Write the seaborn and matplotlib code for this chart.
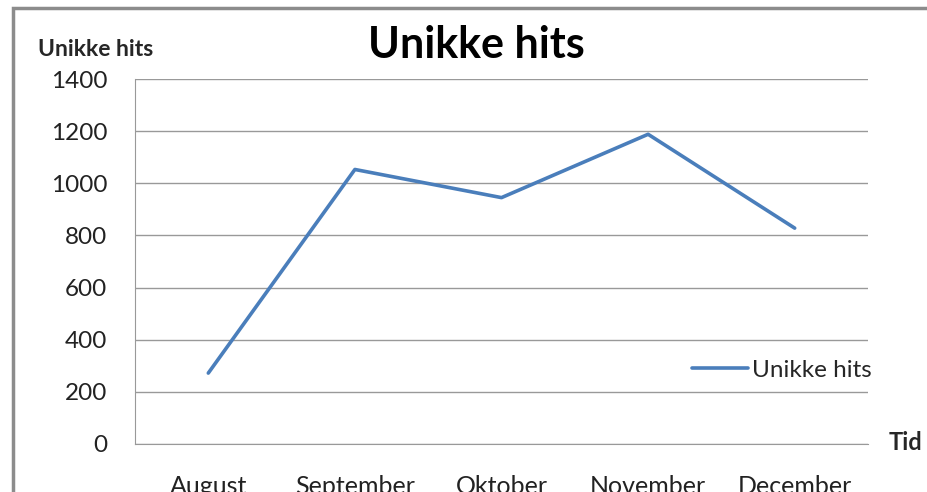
import matplotlib
matplotlib.use("Agg")
import matplotlib.pyplot as plt
import matplotlib.patches as patches
import seaborn as sns
import pandas as pd

months = ["August", "September", "Oktober", "November", "December"]
hits = [272, 1053, 945, 1188, 828]
yticks = [0, 200, 400, 600, 800, 1000, 1200, 1400]

df = pd.DataFrame({"Tid": months, "Unikke hits": hits})

sns.set_style("white")
plt.rcParams["font.family"] = ["Lato", "DejaVu Sans"]

W, H = 928, 492
fig = plt.figure(figsize=(9.28, 4.92), dpi=100)
ax = fig.add_axes([135 / W, 48 / H, 733 / W, 365 / H])

sns.lineplot(x=range(len(months)), y=df["Unikke hits"], ax=ax, color="#4A7EBB",
             linewidth=2.6, label="Unikke hits", sort=False)

ax.set_xlim(-0.5, len(months) - 0.5)
ax.set_ylim(0, 1400)
ax.set_yticks(yticks)
ax.set_yticklabels([str(v) for v in yticks], fontsize=17.5, color="#222222")
ax.set_xticks(range(len(months)))
ax.set_xticklabels(months, fontsize=18, color="#222222")
ax.set_xticks([i - 0.5 for i in range(len(months) + 1)], minor=True)
ax.tick_params(axis="x", which="major", length=0, pad=22)
ax.tick_params(axis="x", which="minor", length=7, color="#999999", width=1, direction="out")
ax.tick_params(axis="y", length=8, color="#999999", width=1, direction="out", pad=12)
ax.yaxis.grid(True, color="#999999", linewidth=1)
for s in ["top", "right"]:
    ax.spines[s].set_visible(False)
ax.spines["left"].set_color("#999999")
ax.spines["bottom"].set_color("#999999")
ax.set_xlabel("")
ax.set_ylabel("")

# titles and axis captions
fig.text(476 / W, 1 - 58 / H, "Unikke hits", fontsize=31, fontweight="bold",
         va="baseline", ha="center", color="black")
fig.text(38 / W, 1 - 50 / H, "Unikke hits", fontsize=16.5, fontweight="bold",
         va="center", ha="left")
fig.text(889 / W, 1 - 443 / H, "Tid", fontsize=17, fontweight="bold",
         va="center", ha="left")

leg = ax.legend(loc="center right", bbox_to_anchor=(1.035, (444 - 370) / 365),
                frameon=False, fontsize=17.5, handlelength=2.3, handletextpad=0.15)

# frame around the chart (cut off at right/bottom like the reference)
fig.patches.append(patches.Rectangle((13 / W, -0.1), 1.0, 1 - 8 / H + 0.1,
                                     transform=fig.transFigure, fill=False,
                                     edgecolor="#8c8c8c", linewidth=2.5))

fig.savefig("out.png", dpi=100)
